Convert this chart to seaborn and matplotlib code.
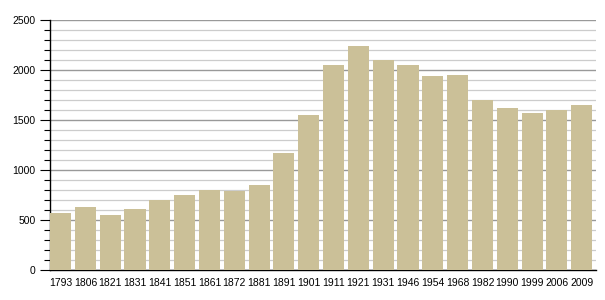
import matplotlib
matplotlib.use("Agg")
import matplotlib.pyplot as plt
import seaborn as sns
import pandas as pd
from matplotlib.ticker import MultipleLocator

years = ["1793", "1806", "1821", "1831", "1841", "1851", "1861", "1872", "1881", "1891", "1901",
         "1911", "1921", "1931", "1946", "1954", "1968", "1982", "1990", "1999", "2006", "2009"]
population = [573, 633, 550, 613, 700, 750, 800, 793, 850, 1170, 1550,
              2050, 2240, 2100, 2050, 1940, 1950, 1700, 1623, 1573, 1600, 1650]
y_ticks = [0, 500, 1000, 1500, 2000, 2500]

df = pd.DataFrame({"year": years, "pop": population})

sns.set_style("white")
plt.rcParams["font.family"] = ["Liberation Sans", "DejaVu Sans"]

fig = plt.figure(figsize=(6.05, 3.0), dpi=100)
ax = fig.add_axes([50 / 605, 30 / 300, 546 / 605, 250 / 300])

sns.barplot(data=df, x="year", y="pop", color="#cbc098", saturation=1, width=0.85,
            linewidth=0, ax=ax, zorder=3)

ax.set_xlim(-0.425, len(years) - 0.425)
ax.set_ylim(0, 2500)
ax.set_yticks(y_ticks)
ax.yaxis.set_minor_locator(MultipleLocator(100))
ax.grid(axis="y", which="major", color="#999999", linewidth=1.0, zorder=0)
ax.grid(axis="y", which="minor", color="#cccccc", linewidth=0.9, zorder=0)
ax.set_axisbelow(True)

for s in ["top", "right"]:
    ax.spines[s].set_visible(False)
for s in ["left", "bottom"]:
    ax.spines[s].set_color("black")
    ax.spines[s].set_linewidth(1.0)

ax.tick_params(axis="y", which="major", left=True, length=7, width=0.8, color="black",
               labelsize=7.5, pad=3.5, labelcolor="black")
ax.tick_params(axis="y", which="minor", left=True, length=4, width=0.8, color="black")
ax.tick_params(axis="x", bottom=False, labelsize=7.5, pad=2, labelcolor="black")
ax.set_xlabel("")
ax.set_ylabel("")

fig.savefig("out.png", dpi=100)
